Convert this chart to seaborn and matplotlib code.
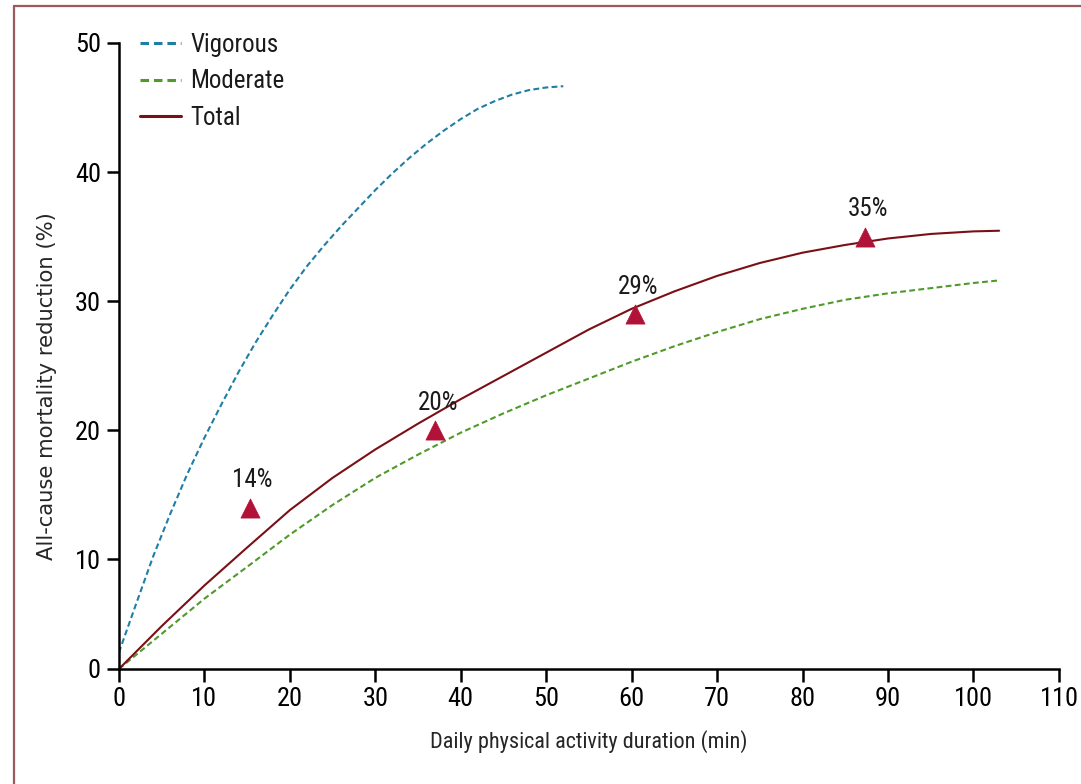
import numpy as np
import pandas as pd
import matplotlib
matplotlib.use("Agg")
import matplotlib.pyplot as plt
from matplotlib.lines import Line2D
from matplotlib import font_manager
import seaborn as sns

# ---- data -------------------------------------------------------------
vig_x = [0, 2, 4, 6, 8, 10, 12, 14, 16, 18, 20, 22, 24, 26, 28, 30, 32, 34,
         36, 38, 40, 42, 44, 46, 48, 50, 52]
vig_y = [1.5, 5.9, 10.2, 13.5, 16.6, 19.4, 22.0, 24.5, 26.8, 28.9, 30.9,
         32.7, 34.3, 35.8, 37.2, 38.6, 39.9, 41.1, 42.2, 43.2, 44.1, 44.9,
         45.5, 46.0, 46.35, 46.55, 46.65]

dur_x = [0, 5, 10, 15, 20, 25, 30, 35, 40, 45, 50, 55, 60, 65, 70, 75, 80,
         85, 90, 95, 100, 103]
moderate_y = [0, 3.2, 6.4, 9.3, 11.9, 14.2, 16.3, 18.1, 19.8, 21.3, 22.7,
              24.0, 25.3, 26.5, 27.6, 28.6, 29.4, 30.1, 30.6, 31.0, 31.4, 31.6]
total_y = [0, 3.9, 7.6, 10.9, 13.8, 16.3, 18.5, 20.5, 22.4, 24.2, 26.0, 27.8,
           29.4, 30.75, 31.95, 32.95, 33.75, 34.35, 34.85, 35.2, 35.4, 35.45]

point_x = [15.3, 37.0, 60.4, 87.3]
point_y = [14, 20, 29, 35]
point_labels = ["14%", "20%", "29%", "35%"]

x_ticks = [0, 10, 20, 30, 40, 50, 60, 70, 80, 90, 100, 110]
y_ticks = [0, 10, 20, 30, 40, 50]

# ---- style ------------------------------------------------------------
sns.set_style("ticks")
installed = {f.name for f in font_manager.fontManager.ttflist}
narrow_pref = ["Roboto Condensed", "Open Sans Condensed", "Liberation Sans Narrow",
               "Lato", "Liberation Sans"]
NARROW = [f for f in narrow_pref if f in installed] + ["DejaVu Sans"]
plt.rcParams["font.family"] = NARROW
plt.rcParams["text.color"] = "#1a1a1a"

C_VIG = "#1f7ea3"
C_MOD = "#4f9a2a"
C_TOT = "#7a1016"
C_PT = "#b01238"

curves = pd.concat([
    pd.DataFrame({"minutes": vig_x, "reduction": vig_y, "type": "Vigorous"}),
    pd.DataFrame({"minutes": dur_x, "reduction": moderate_y, "type": "Moderate"}),
    pd.DataFrame({"minutes": dur_x, "reduction": total_y, "type": "Total"}),
], ignore_index=True)
points = pd.DataFrame({"minutes": point_x, "reduction": point_y,
                       "label": point_labels})

fig = plt.figure(figsize=(10.81, 7.84), dpi=100)
ax = fig.add_axes([0.110, 0.1467, 0.8696, 0.7985])

# y axis: the 0-10 band is drawn a little shorter than the other decades
K = 0.851


def fwd(y):
    y = np.asarray(y, dtype=float)
    return np.where(y < 10, y * K, (y - 10) + 10 * K)


def inv(v):
    v = np.asarray(v, dtype=float)
    return np.where(v < 10 * K, v / K, v - 10 * K + 10)


ax.set_yscale("function", functions=(fwd, inv))

dash = (2.8, 1.6)
sns.lineplot(data=curves, x="minutes", y="reduction", hue="type",
             style="type",
             palette={"Vigorous": C_VIG, "Moderate": C_MOD, "Total": C_TOT},
             dashes={"Vigorous": dash, "Moderate": dash, "Total": ""},
             linewidth=1.5, ax=ax, legend=False, sort=False)

sns.scatterplot(data=points, x="minutes", y="reduction", marker="^",
                s=190, color=C_PT, edgecolor=C_PT, linewidth=0.5, ax=ax,
                zorder=5, legend=False)

for _, r in points.iterrows():
    ax.annotate(r["label"], (r["minutes"], r["reduction"]),
                xytext=(2, 11), textcoords="offset points",
                ha="center", va="bottom", fontsize=18)

ax.set_xlim(0, 110)
ax.set_ylim(0, 50)
ax.set_xticks(x_ticks)
ax.set_yticks(y_ticks)
ax.tick_params(axis="both", direction="out", length=9, width=1.8,
               labelsize=19, pad=4, colors="black")
for side in ("top", "right"):
    ax.spines[side].set_visible(False)
for side in ("left", "bottom"):
    ax.spines[side].set_linewidth(1.8)
    ax.spines[side].set_color("black")

ax.set_xlabel("Daily physical activity duration (min)", fontsize=16,
              labelpad=14)
ax.set_ylabel("All-cause mortality reduction (%)", fontsize=15.2,
              family=["DejaVu Sans"])
ax.yaxis.set_label_coords(-0.066, 0.452)

handles = [
    Line2D([], [], color=C_VIG, lw=2.2, dashes=dash),
    Line2D([], [], color=C_MOD, lw=2.2, dashes=dash),
    Line2D([], [], color=C_TOT, lw=2.2),
]
ax.legend(handles, ["Vigorous", "Moderate", "Total"], loc="upper left",
          bbox_to_anchor=(0.0, 1.05), frameon=False, fontsize=18,
          handlelength=1.65, handletextpad=0.35, labelspacing=0.5,
          borderaxespad=0.45)

# thin frame along the left and top of the figure
frame_c = "#9a5a5e"
fig.add_artist(Line2D([14 / 1081, 14 / 1081], [0, 1 - 6 / 784],
                      color=frame_c, lw=1.6, transform=fig.transFigure))
fig.add_artist(Line2D([14 / 1081, 1], [1 - 6 / 784, 1 - 6 / 784],
                      color=frame_c, lw=1.6, transform=fig.transFigure))

fig.savefig("out.png", dpi=100)
